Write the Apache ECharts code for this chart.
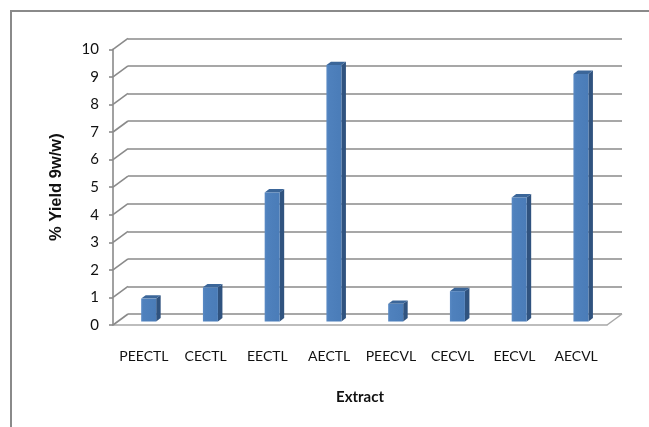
<!DOCTYPE html>
<html>
<head>
<meta charset="utf-8">
<style>
  html, body { margin: 0; padding: 0; background: #ffffff; }
  #chart { width: 649px; height: 427px; }
</style>
<script src="https://cdn.jsdelivr.net/npm/echarts@6/dist/echarts.min.js"></script>
</head>
<body>
<div id="chart"></div>
<script>
// Extract yields
const categories = ['PEECTL', 'CECTL', 'EECTL', 'AECTL', 'PEECVL', 'CECVL', 'EECVL', 'AECVL'];
const yieldValues = [0.83, 1.24, 4.68, 9.3, 0.64, 1.1, 4.5, 8.98];
const yMin = 0;
const yMax = 10;
const yStep = 1;
const yTicks = [0, 1, 2, 3, 4, 5, 6, 7, 8, 9, 10];

// pseudo-3D depth of the plot box (front plane -> back wall)
const DEPTH_X = 15;
const DEPTH_Y = 11;
// front plane of the plot
const FRONT = { left: 113, right: 42, top: 49.3, bottom: 102 };
// bar geometry
const BAR_W = 15;
const FACE_DX = 4.8;   // bar face sits a little behind the front plane
const FACE_DY = 3.5;
const SIDE_X = 4.5;    // bar depth
const SIDE_Y = 3.4;

const GRID_COLOR = '#8a8a8a';
const FONT = 'Lato, "Open Sans", sans-serif';

const chart = echarts.init(document.getElementById('chart'), null, { renderer: 'canvas' });

const option = {
  animation: false,
  backgroundColor: '#ffffff',
  graphic: [{
    type: 'rect',
    shape: { x: 11, y: 11, width: 700, height: 500 },
    style: { fill: 'none', stroke: '#8a8a8a', lineWidth: 2 },
    silent: true
  }],
  grid: [
    // back wall: horizontal gridlines
    { left: FRONT.left + DEPTH_X, right: FRONT.right - DEPTH_X, top: FRONT.top - DEPTH_Y, bottom: FRONT.bottom + DEPTH_Y },
    // front plane: axes, labels and bars
    { left: FRONT.left, right: FRONT.right, top: FRONT.top, bottom: FRONT.bottom }
  ],
  xAxis: [
    { gridIndex: 0, type: 'category', data: categories, show: false },
    {
      gridIndex: 1, type: 'category', data: categories,
      axisLine: { show: true, lineStyle: { color: '#a8a8a8', width: 1.5 } },
      axisTick: { show: false },
      axisLabel: { color: '#111111', fontSize: 14, fontFamily: FONT, margin: 24, interval: 0 },
      name: 'Extract',
      nameLocation: 'middle',
      nameGap: 65,
      nameTextStyle: { color: '#111111', fontSize: 15, fontWeight: 'bold', fontFamily: FONT }
    }
  ],
  yAxis: [
    {
      gridIndex: 0, type: 'value', min: yMin, max: yMax, interval: yStep,
      axisLine: { show: false }, axisTick: { show: false }, axisLabel: { show: false },
      splitLine: { show: true, lineStyle: { color: GRID_COLOR, width: 1.6 } }
    },
    {
      gridIndex: 1, type: 'value', min: yMin, max: yMax, interval: yStep,
      axisLine: { show: true, lineStyle: { color: GRID_COLOR, width: 1.6 } },
      axisTick: { show: true, length: 4, lineStyle: { color: GRID_COLOR, width: 1.6 } },
      axisLabel: { color: '#111111', fontSize: 15, fontFamily: FONT, margin: 14 },
      splitLine: { show: false },
      name: '% Yield 9w/w)',
      nameLocation: 'middle',
      nameGap: 48,
      nameRotate: 90,
      nameTextStyle: { color: '#111111', fontSize: 16.5, fontWeight: 'bold', fontFamily: 'Liberation Sans, Arial, sans-serif' }
    }
  ],
  series: [
    {
      // left wall and floor edges joining the front plane to the back wall
      type: 'custom',
      xAxisIndex: 1, yAxisIndex: 1,
      silent: true,
      z: 1,
      data: yTicks.map(v => [0, v]),
      renderItem(params, api) {
        const cs = params.coordSys;
        const y = api.coord([0, api.value(1)])[1];
        const children = [{
          type: 'line',
          shape: { x1: cs.x, y1: y, x2: cs.x + DEPTH_X, y2: y - DEPTH_Y },
          style: { stroke: GRID_COLOR, lineWidth: 1.6 }
        }];
        if (api.value(1) === yMin) {
          children.push({
            type: 'line',
            shape: { x1: cs.x + cs.width, y1: y, x2: cs.x + cs.width + DEPTH_X, y2: y - DEPTH_Y },
            style: { stroke: '#a8a8a8', lineWidth: 1.5 }
          });
        }
        return { type: 'group', children };
      }
    },
    {
      type: 'custom',
      xAxisIndex: 1, yAxisIndex: 1,
      z: 3,
      data: categories.map((c, i) => [i, yieldValues[i]]),
      renderItem(params, api) {
        const i = api.value(0);
        const base = api.coord([i, 0]);
        const top = api.coord([i, api.value(1)]);
        const x0 = base[0] + FACE_DX - BAR_W / 2;
        const x1 = x0 + BAR_W;
        const yb = base[1] - FACE_DY;
        const yt = top[1] - FACE_DY;
        return {
          type: 'group',
          children: [
            {
              type: 'polygon',
              shape: { points: [[x1, yt], [x1 + SIDE_X, yt - SIDE_Y], [x1 + SIDE_X, yb - SIDE_Y], [x1, yb]] },
              style: { fill: '#30537f' }
            },
            {
              type: 'polygon',
              shape: { points: [[x0, yt], [x0 + SIDE_X, yt - SIDE_Y], [x1 + SIDE_X, yt - SIDE_Y], [x1, yt]] },
              style: { fill: '#3b6699' }
            },
            {
              type: 'rect',
              shape: { x: x0, y: yt, width: BAR_W, height: yb - yt },
              style: {
                fill: new echarts.graphic.LinearGradient(0, 0, 1, 0, [
                  { offset: 0, color: '#5a8ac4' },
                  { offset: 0.15, color: '#4f81bd' },
                  { offset: 1, color: '#4a7cb8' }
                ])
              }
            }
          ]
        };
      }
    }
  ]
};

chart.setOption(option);
</script>
</body>
</html>
